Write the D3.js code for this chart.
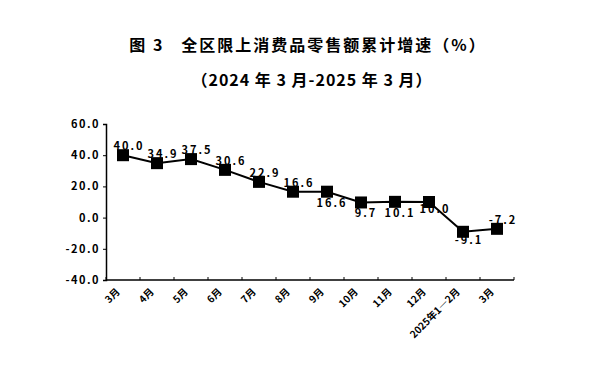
<!DOCTYPE html>
<html lang="zh">
<head>
<meta charset="utf-8" />
<title>全区限上消费品零售额累计增速</title>
<script src="https://d3js.org/d3.v7.min.js"></script>
<style>
  body { margin: 0; background: #fff; }
  svg text { font-family: "Noto Sans CJK SC", sans-serif; fill: #000; }
</style>
</head>
<body>
<svg id="chart" width="616" height="377"></svg>
<script>
    // chart data
    const months = ["3月", "4月", "5月", "6月", "7月", "8月", "9月", "10月", "11月", "12月", "2025年1—2月", "3月"];
    const growth = [40.0, 34.9, 37.5, 30.6, 22.9, 16.6, 16.6, 9.7, 10.1, 10.0, -9.1, -7.2];
    const labelSide = ["up", "up", "up", "up", "up", "up", "down", "down", "down", "right", "under", "up"];
    const yTicks = [-40, -20, 0, 20, 40, 60];

    const svg = d3.select("#chart");
    const plotL = 106, plotR = 514, plotT = 124, plotB = 280;

    const x = d3.scaleBand().domain(d3.range(months.length)).range([plotL, plotR]).padding(0);
    const y = d3.scaleLinear().domain([-40, 60]).range([plotB, plotT]);
    const cx = i => x(i) + x.bandwidth() / 2;

    // titles
    svg.append("text")
        .attr("x", 308).attr("y", 51)
        .attr("text-anchor", "middle")
        .style("font-size", "16px").style("font-weight", "bold").style("letter-spacing", "2px")
        .text("图 3\u00a0\u00a0\u00a0全区限上消费品零售额累计增速（%）");
    svg.append("text")
        .attr("x", 312).attr("y", 86)
        .attr("text-anchor", "middle")
        .style("font-size", "16px").style("font-weight", "bold").style("letter-spacing", "1px")
        .text("（2024 年 3 月-2025 年 3 月）");

    // y axis
    const yAxis = svg.append("g").attr("transform", "translate(" + plotL + ",0)")
        .call(d3.axisLeft(y).tickValues(yTicks).tickSize(3).tickFormat(d => d.toFixed(1)));
    yAxis.select(".domain").attr("stroke", "#000").attr("stroke-width", 1.5);
    yAxis.selectAll(".tick line").attr("stroke", "#000");
    yAxis.selectAll(".tick text")
        .attr("x", -6)
        .style("font-size", "11px").style("font-weight", "bold").style("letter-spacing", "1.5px")
        .style("font-family", "'Noto Sans CJK SC', sans-serif");

    // x axis
    svg.append("line")
        .attr("x1", plotL).attr("x2", plotR).attr("y1", plotB).attr("y2", plotB)
        .attr("stroke", "#000").attr("stroke-width", 1.5);
    svg.append("g").selectAll("line")
        .data(d3.range(months.length + 1))
        .join("line")
        .attr("x1", i => plotL + i * x.bandwidth()).attr("x2", i => plotL + i * x.bandwidth())
        .attr("y1", plotB).attr("y2", plotB - 3)
        .attr("stroke", "#000");
    svg.append("g").selectAll("text")
        .data(months)
        .join("text")
        .attr("transform", (d, i) => "translate(" + (cx(i) - 5) + "," + (plotB + 10) + ") rotate(-45)")
        .attr("text-anchor", "end")
        .attr("dy", "0.35em")
        .style("font-size", "10px").style("font-weight", "bold")
        .text(d => d);

    // value labels (drawn first so markers sit on top, as in the original)
    const off = { up: [6, -5], down: [5, 15], right: [6, 11], under: [6, 12] };
    svg.append("g").selectAll("text")
        .data(growth)
        .join("text")
        .attr("x", (d, i) => cx(i) + off[labelSide[i]][0])
        .attr("y", (d, i) => y(d) + off[labelSide[i]][1])
        .attr("text-anchor", "middle")
        .style("font-size", "11px").style("font-weight", "bold").style("letter-spacing", "2px")
        .text(d => d.toFixed(1));

    // line + markers
    svg.append("path")
        .datum(growth)
        .attr("fill", "none").attr("stroke", "#000").attr("stroke-width", 2)
        .attr("d", d3.line().x((d, i) => cx(i)).y(d => y(d)));
    svg.append("g").selectAll("rect")
        .data(growth)
        .join("rect")
        .attr("x", (d, i) => cx(i) - 6).attr("y", d => y(d) - 6)
        .attr("width", 12).attr("height", 12)
        .attr("fill", "#000");
</script>
</body>
</html>
